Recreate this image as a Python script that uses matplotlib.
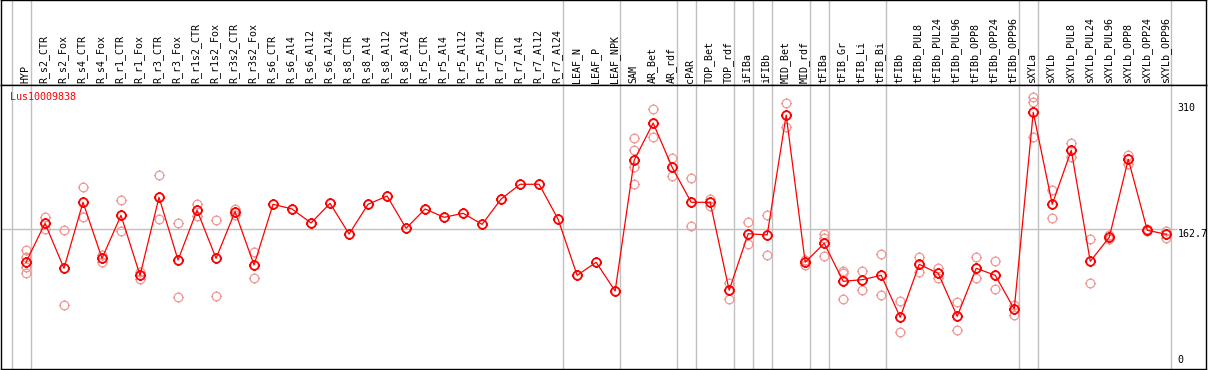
import numpy as np
import matplotlib.pyplot as plt
from matplotlib.path import Path

# sample names (x axis, top header)
samples = [
    'HYP', 'R_s2_CTR', 'R_s2_Fox', 'R_s4_CTR', 'R_s4_Fox', 'R_r1_CTR', 'R_r1_Fox',
    'R_r3_CTR', 'R_r3_Fox', 'R_r1s2_CTR', 'R_r1s2_Fox', 'R_r3s2_CTR', 'R_r3s2_Fox',
    'R_s6_CTR', 'R_s6_Al4', 'R_s6_Al12', 'R_s6_Al24', 'R_s8_CTR', 'R_s8_Al4',
    'R_s8_Al12', 'R_s8_Al24', 'R_r5_CTR', 'R_r5_Al4', 'R_r5_Al12', 'R_r5_Al24',
    'R_r7_CTR', 'R_r7_Al4', 'R_r7_Al12', 'R_r7_Al24', 'LEAF_N', 'LEAF_P', 'LEAF_NPK',
    'SAM', 'AR_Bet', 'AR_rdf', 'cPAR', 'TOP_Bet', 'TOP_rdf', 'iFIBa', 'iFIBb',
    'MID_Bet', 'MID_rdf', 'tFIBa', 'tFIB_Gr', 'tFIB_Li', 'tFIB_Bi', 'tFIBb',
    'tFIBb_PUL8', 'tFIBb_PUL24', 'tFIBb_PUL96', 'tFIBb_OPP8', 'tFIBb_OPP24',
    'tFIBb_OPP96', 'sXYLa', 'sXYLb', 'sXYLb_PUL8', 'sXYLb_PUL24', 'sXYLb_PUL96',
    'sXYLb_OPP8', 'sXYLb_OPP24', 'sXYLb_OPP96'
]

# mean expression per sample
means = [
    124.4, 169.8, 117.4, 194.3, 129.0, 179.1, 109.2, 200.1, 127.0, 185.0, 129.0,
    183.3, 121.2, 192.0, 186.5, 170.2, 193.1, 157.3, 192.0, 201.6, 164.0, 186.5,
    176.8, 181.5, 168.6, 198.1, 215.3, 215.3, 174.5, 109.2, 124.4, 90.9,
    243.2, 286.7, 235.1, 194.3, 194.3, 91.7, 157.7, 156.2, 296.0, 124.4, 146.5,
    102.2, 104.1, 109.2, 60.3, 122.0, 111.5, 61.4, 117.4, 109.2, 69.9,
    299.2, 192.0, 254.9, 125.5, 153.5, 244.4, 161.7, 157.0
]

# individual replicates (empty = no replicates shown)
replicates = [
    [138.7, 130.9, 119.2, 111.5], [177.2, 162.8], [162.0, 74.6], [211.8, 176.8],
    [132.9, 125.1], [197.0, 160.5], [113.4, 105.2], [225.8, 174.5], [169.8, 83.6],
    [192.3, 178.7], [173.7, 85.1], [186.5, 180.0], [136.0, 105.7],
    [], [], [], [], [], [], [], [], [], [], [], [], [], [], [], [], [], [], [],
    [268.9, 254.9, 235.1, 215.3], [302.7, 270.0], [245.6, 224.6], [222.3, 166.3],
    [198.1, 190.0], [100.6, 81.2], [171.0, 146.0], [179.1, 132.5], [309.7, 282.1],
    [127.5, 121.3], [157.3, 152.3, 131.7], [114.6, 111.5, 81.2], [114.6, 92.4],
    [133.7, 85.9], [78.9, 42.8], [130.2, 113.4], [118.1, 105.7], [77.7, 45.5],
    [130.2, 105.7], [125.5, 92.9], [74.6, 63.3],
    [316.7, 311.5, 270.0], [208.3, 175.6], [263.1, 246.7], [151.5, 100.2],
    [155.8, 151.2], [249.8, 238.9], [162.8, 160.5], [161.2, 152.3]
]

# last sample index of each tissue group (grey separators)
group_ends = [-1, 0, 28, 31, 34, 35, 37, 38, 39, 41, 42, 45, 52, 53, 60]

gene = 'Lus10009838'
ref_value = 162.7
max_label = 310

mono = 'DejaVu Sans Mono'
fs = 7.2
grey = '#c0c0c0'

# circle marker with tiny ticks, like the original bitmap symbol
circ = Path.unit_circle()
tick_verts, tick_codes = [], []
for dx, dy in [(1, 0), (-1, 0), (0, 1), (0, -1)]:
    tick_verts += [(dx * 1.0, dy * 1.0), (dx * 1.22, dy * 1.22)]
    tick_codes += [Path.MOVETO, Path.LINETO]
marker = Path.make_compound_path(circ, Path(tick_verts, tick_codes))

W, H = 1209, 370
fig = plt.figure(figsize=(W / 100, H / 100), dpi=100)

x = np.arange(len(samples))
xlim = (-1.315, 62.09)

# header with rotated sample names
hax = fig.add_axes([1 / W, 285 / H, 1205 / W, 85 / H])
hax.set_xlim(xlim)
hax.set_ylim(0, 1)
for i, name in enumerate(samples):
    hax.text(i - 0.05, 0.025, name, rotation=90, ha='center', va='bottom',
             family=mono, fontsize=fs, color='black')
for g in group_ends:
    hax.axvline(g + 0.24, color=grey, lw=1)
hax.set_xticks([])
hax.set_yticks([])
for s in hax.spines.values():
    s.set_color('black')
    s.set_linewidth(1)

# main plot
ax = fig.add_axes([1 / W, 1 / H, 1205 / W, 284 / H])
ax.set_xlim(xlim)
ax.set_ylim(0, 331)
for g in group_ends:
    ax.axvline(g + 0.24, color=grey, lw=1, zorder=1)
ax.hlines(ref_value, xlim[0], 60.56, color=grey, lw=1, zorder=1)

for i, r in enumerate(replicates):
    if r:
        ax.plot([i] * len(r), r, linestyle='none', marker=marker, ms=7.6,
                mfc='none', mec='#f09898', mew=0.9, zorder=2)

ax.plot(x, means, color='red', lw=0.9, zorder=3)
ax.plot(x, means, linestyle='none', marker=marker, ms=7.6, mfc='none',
        mec='red', mew=1.3, zorder=4)

ax.text(-0.84, 317, gene, color='red', family=mono, fontsize=fs,
        ha='left', va='center')
ax.text(60.6, max_label, str(max_label), family=mono, fontsize=fs,
        ha='left', va='top')
ax.text(60.6, ref_value, str(ref_value), family=mono, fontsize=fs,
        ha='left', va='top')
ax.text(60.6, 5, '0', family=mono, fontsize=fs, ha='left', va='bottom')

ax.set_xticks([])
ax.set_yticks([])
for s in ax.spines.values():
    s.set_color('black')
    s.set_linewidth(1)

fig.savefig('out.png', dpi=100)
